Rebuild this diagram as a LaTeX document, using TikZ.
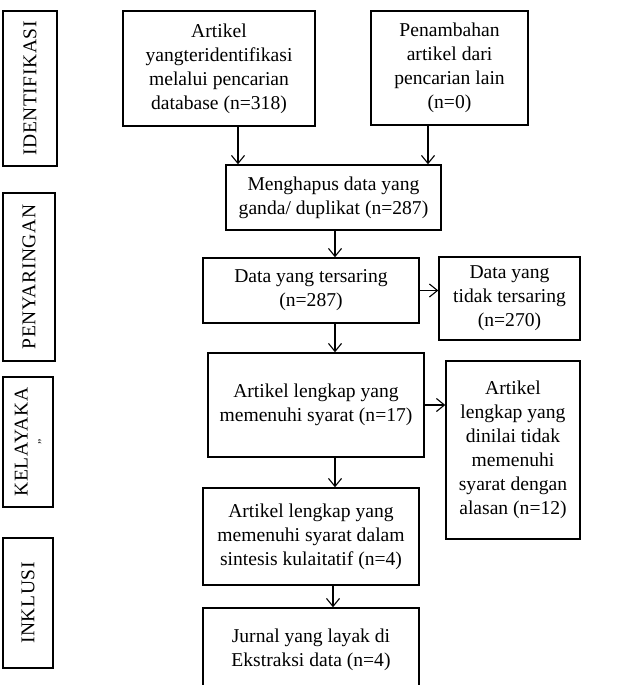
\documentclass[tikz,border=0pt]{standalone}
\usepackage{fontspec}
\setmainfont{Liberation Serif}
\usetikzlibrary{arrows.meta}
\tikzset{
  box/.style={draw, line width=1.4pt, inner sep=0pt, align=center, font=\fontsize{19.6}{24}\selectfont},
  side/.style={draw, line width=1.4pt, inner sep=0pt, align=center, rotate=90, font=\fontsize{19.5}{24}\selectfont\addfontfeature{LetterSpace=3}},
  arr/.style={line width=1.1pt, -{Straight Barb[length=8pt,width=13pt]}}
}
\begin{document}
\begin{tikzpicture}[x=1pt,y=-1pt]
\useasboundingbox (0,0) rectangle (620,685);
% sidebar
\node[side, minimum width=155pt, minimum height=54pt] (s1) at (30,88.5) {IDENTIFIKASI};
\node[side, minimum width=168pt, minimum height=52pt] (s2) at (29,277) {PENYARINGAN};
\node[side, minimum width=130pt, minimum height=50pt] (s3) at (28,442) {KELAYAKA\\[-12pt]{\fontsize{12}{12}\selectfont ,,}};
\node[side, minimum width=130pt, minimum height=50pt] (s4) at (28,603) {INKLUSI};
% main boxes
\node[box, minimum width=192pt, minimum height=115pt] (art) at (219,68.5) {Artikel\\yangteridentifikasi\\melalui pencarian\\database (n=318)};
\node[box, minimum width=157pt, minimum height=114pt] (pen) at (449.5,68) {Penambahan\\artikel dari\\pencarian lain\\(n=0)};
\node[box, minimum width=215pt, minimum height=65pt] (meng) at (333.5,197.5) {Menghapus data yang\\ganda/ duplikat (n=287)};
\node[box, minimum width=216pt, minimum height=65pt] (ters) at (311,290.5) {Data yang tersaring\\(n=287)};
\node[box, minimum width=141pt, minimum height=83pt] (tdk) at (509.5,298.5) {Data yang\\tidak tersaring\\(n=270)};
\node[box, minimum width=216pt, minimum height=104pt] (lkp) at (316,405) {Artikel lengkap yang\\memenuhi syarat (n=17)};
\node[box, minimum width=134pt, minimum height=178pt] (nil) at (513,450) {Artikel\\lengkap yang\\dinilai tidak\\memenuhi\\syarat dengan\\alasan (n=12)};
\node[box, minimum width=216pt, minimum height=97pt] (sin) at (311,536.5) {Artikel lengkap yang\\memenuhi syarat dalam\\sintesis kulaitatif (n=4)};
\node[box, minimum width=216pt, minimum height=84pt] (jur) at (311,650) {Jurnal yang layak di\\Ekstraksi data (n=4)};
% columns
\coordinate (col) at (335,0);
\coordinate (colb) at (333,0);
% arrows
\draw[arr] ([xshift=19pt]art.south) -- ([xshift=19pt]art.south |- meng.north);
\draw[arr] ([xshift=-21.5pt]pen.south) -- ([xshift=-21.5pt]pen.south |- meng.north);
\draw[arr] (meng.south -| col) -- (ters.north -| col);
\draw[arr] (ters.east) -- (ters.east -| tdk.west);
\draw[arr] (ters.south -| col) -- (lkp.north -| col);
\draw[arr] (lkp.east) -- (lkp.east -| nil.west);
\draw[arr] (lkp.south -| col) -- (sin.north -| col);
\draw[arr] (sin.south -| colb) -- (jur.north -| colb);
\end{tikzpicture}
\end{document}
